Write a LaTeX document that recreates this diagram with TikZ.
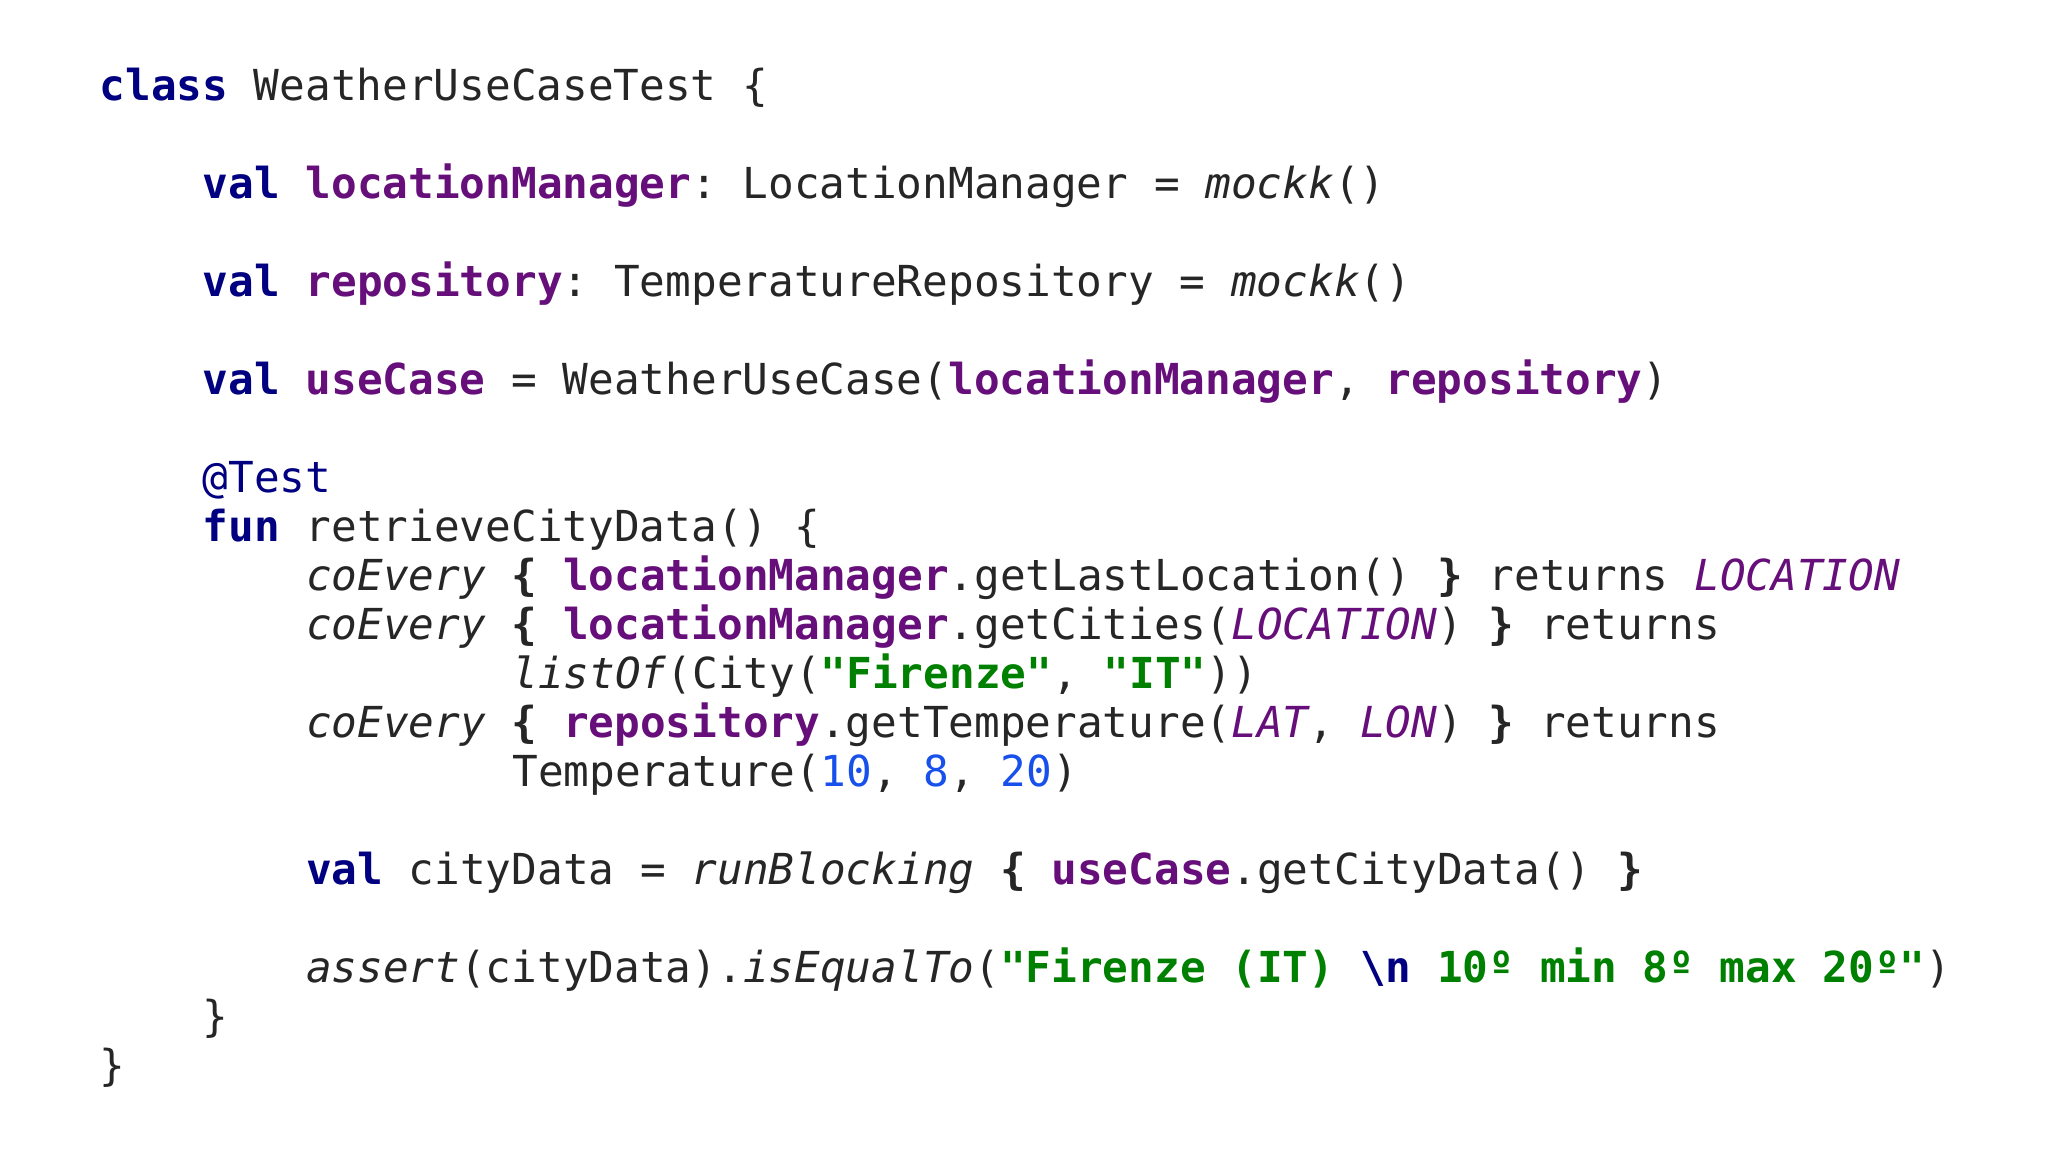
\documentclass[tikz,border=0pt]{standalone}
\usepackage{fontspec}
\setmonofont{DejaVu Sans Mono}
\definecolor{kw}{HTML}{000080}
\definecolor{fld}{HTML}{660E7A}
\definecolor{str}{HTML}{008000}
\definecolor{num}{HTML}{1750EB}
\newcommand{\K}[1]{{\color{kw}\bfseries #1}}
\newcommand{\F}[1]{{\color{fld}\bfseries #1}}
\newcommand{\FI}[1]{{\color{fld}\itshape #1}}
\newcommand{\Sg}[1]{{\color{str}\bfseries #1}}
\newcommand{\N}[1]{{\color{num}#1}}
\newcommand{\I}[1]{{\itshape #1}}
\newcommand{\cl}[4]{\node[codeline] (#1) at ({0.99+#2*0.2579},{11.52-1.006-#3*0.4898}) {#4};}
\begin{document}
\begin{tikzpicture}[codeline/.style={anchor=base west,inner sep=0pt,font=\ttfamily\fontsize{12.15}{14}\selectfont,text=black!85}]
\fill[white] (0,0) rectangle (20.48,11.52);
\useasboundingbox (0,0) rectangle (20.48,11.52);
\cl{l0}{0}{0}{\K{class} WeatherUseCaseTest \{}
\cl{l2}{4}{2}{\K{val} \F{locationManager}: LocationManager = \I{mockk}()}
\cl{l4}{4}{4}{\K{val} \F{repository}: TemperatureRepository = \I{mockk}()}
\cl{l6}{4}{6}{\K{val} \F{useCase} = WeatherUseCase(\F{locationManager}, \F{repository})}
\cl{l8}{4}{8}{{\color{kw}@Test}}
\cl{l9}{4}{9}{\K{fun} retrieveCityData() \{}
\cl{l10}{8}{10}{\I{coEvery} \textbf{\{} \F{locationManager}.getLastLocation() \textbf{\}} returns \FI{LOCATION}}
\cl{l11}{8}{11}{\I{coEvery} \textbf{\{} \F{locationManager}.getCities(\FI{LOCATION}) \textbf{\}} returns}
\cl{l12}{16}{12}{\I{listOf}(City(\Sg{"Firenze"}, \Sg{"IT"}))}
\cl{l13}{8}{13}{\I{coEvery} \textbf{\{} \F{repository}.getTemperature(\FI{LAT}, \FI{LON}) \textbf{\}} returns}
\cl{l14}{16}{14}{Temperature(\N{10}, \N{8}, \N{20})}
\cl{l16}{8}{16}{\K{val} cityData = \I{runBlocking} \textbf{\{} \F{useCase}.getCityData() \textbf{\}}}
\cl{l18}{8}{18}{\I{assert}(cityData).\I{isEqualTo}(\Sg{"Firenze (IT) {\color{kw}\textbackslash n} 10º min 8º max 20º"})}
\cl{l19}{4}{19}{\}}
\cl{l20}{0}{20}{\}}
\end{tikzpicture}
\end{document}
